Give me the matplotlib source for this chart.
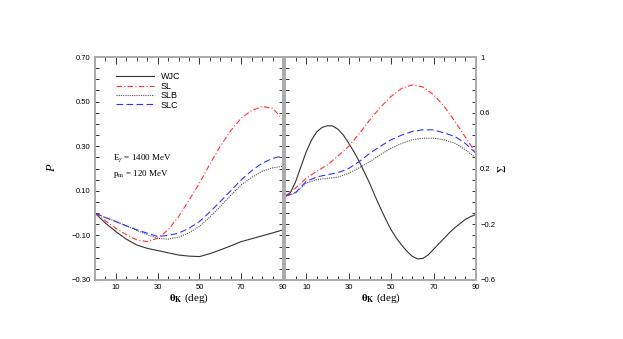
import matplotlib
matplotlib.use("Agg")
import matplotlib.pyplot as plt
import numpy as np

plt.rcParams["mathtext.fontset"] = "stix"

theta = list(range(0, 95, 5))
theta_fine = [i * 2.5 for i in range(37)]

# Left panel: P
P_WJC = [0, -0.045, -0.083, -0.117, -0.143, -0.158, -0.168, -0.178, -0.188, -0.193,
         -0.195, -0.182, -0.165, -0.147, -0.128, -0.115, -0.102, -0.089, -0.075]
P_SL = [0, -0.035, -0.068, -0.097, -0.12, -0.128, -0.113, -0.075, -0.016, 0.058,
        0.134, 0.22, 0.30, 0.37, 0.426, 0.46, 0.478, 0.47, 0.42]
P_SLB = [0, -0.02, -0.038, -0.057, -0.077, -0.097, -0.113, -0.117, -0.108, -0.088,
         -0.06, -0.017, 0.03, 0.08, 0.127, 0.16, 0.187, 0.203, 0.21]
P_SLC = [0, -0.02, -0.038, -0.057, -0.075, -0.09, -0.105, -0.1, -0.09, -0.068,
         -0.038, 0.005, 0.052, 0.10, 0.149, 0.19, 0.224, 0.245, 0.257]

# Right panel: Sigma
S_WJC = [0, 0.026, 0.105, 0.213, 0.32, 0.404, 0.464, 0.495, 0.507, 0.505,
         0.481, 0.44, 0.381, 0.32, 0.25, 0.17, 0.09, 0.0, -0.085, -0.165,
         -0.24, -0.30, -0.35, -0.395, -0.43, -0.449, -0.445, -0.42, -0.38, -0.34,
         -0.30, -0.26, -0.225, -0.195, -0.165, -0.145, -0.13]
S_SL = [0, 0.06, 0.13, 0.18, 0.226, 0.29, 0.358, 0.45, 0.55, 0.64,
        0.717, 0.775, 0.80, 0.785, 0.73, 0.645, 0.54, 0.425, 0.31]
S_SLB = [0, 0.025, 0.094, 0.12, 0.13, 0.138, 0.166, 0.205, 0.25, 0.30,
         0.346, 0.38, 0.406, 0.417, 0.418, 0.405, 0.382, 0.335, 0.274]
S_SLC = [0, 0.028, 0.107, 0.14, 0.155, 0.17, 0.2, 0.25, 0.31, 0.36,
         0.406, 0.44, 0.466, 0.478, 0.477, 0.455, 0.43, 0.38, 0.31]

x_ticklabels = ["10", "30", "50", "70", "90"]
left_yticks = [0.70, 0.50, 0.30, 0.10, -0.10, -0.30]
left_yticklabels = ["0.70", "0.50", "0.30", "0.10", "\u22120.10", "\u22120.30"]
right_yticks = [1, 0.6, 0.2, -0.2, -0.6]
right_yticklabels = ["1", "0.6", "0.2", "\u22120.2", "\u22120.6"]

fig = plt.figure(figsize=(6.23, 3.39), dpi=100)
axL = fig.add_axes([95/623, 59/339, 188/623, 223/339])
axR = fig.add_axes([285/623, 59/339, 191/623, 223/339])

styles = dict(
    WJC=dict(color="#333333", ls="-", lw=0.8),
    SL=dict(color="#ff3333", ls=(0, (5, 2, 1, 2)), lw=0.8),
    SLB=dict(color="#555555", ls=(0, (1, 1)), lw=0.8),
    SLC=dict(color="#3333ff", ls=(0, (6, 3)), lw=0.8),
)

for name, y in [("WJC", P_WJC), ("SL", P_SL), ("SLB", P_SLB), ("SLC", P_SLC)]:
    axL.plot(theta, y, label=name, **styles[name])
axR.plot(theta_fine, S_WJC, **styles["WJC"])
for name, y in [("SL", S_SL), ("SLB", S_SLB), ("SLC", S_SLC)]:
    axR.plot(theta, y, **styles[name])

for ax in (axL, axR):
    ax.set_xlim(0, 90)
    ax.set_xticks(np.arange(10, 91, 20))
    ax.set_xticks(np.arange(0, 91, 5), minor=True)
    ax.set_xticklabels(x_ticklabels, fontsize=5.5, family="Liberation Sans")
    ax.tick_params(which="both", direction="in", top=True, bottom=True, left=True, right=True,
                   color="#333333", width=0.7, pad=3)
    ax.tick_params(which="major", length=5)
    ax.tick_params(which="minor", length=3)
    for sp in ax.spines.values():
        sp.set_color("#aaaaaa")
        sp.set_linewidth(1.4)
    ax.set_xlabel(r"$\mathbf{\theta_K}$ (deg)", family="Liberation Serif", fontsize=8, labelpad=0)

axL.set_ylim(-0.30, 0.70)
axL.set_yticks(left_yticks)
axL.set_yticks(np.arange(-0.30, 0.701, 0.05), minor=True)
axL.set_yticklabels(left_yticklabels, fontsize=5.5, family="Liberation Sans")
axL.tick_params(axis="y", which="major", length=3)
axL.set_ylabel("P", family="Liberation Serif", style="italic", fontsize=9, labelpad=10)

axR.set_ylim(-0.6, 1.0)
axR.set_yticks(right_yticks)
axR.set_yticks(np.arange(-0.6, 1.001, 0.08), minor=True)
axR.set_yticklabels(right_yticklabels, fontsize=5.5, family="Liberation Sans")
axR.tick_params(axis="y", which="major", length=3, labelleft=False, labelright=True)
axR.yaxis.set_label_position("right")
axR.set_ylabel("\u03a3", family="Liberation Serif", fontsize=9, labelpad=1, rotation=90)

axL.legend(loc="upper left", bbox_to_anchor=(0.08, 0.96), frameon=False,
           prop=dict(family="Liberation Sans", size=6.5), handlelength=4.2,
           labelspacing=0.05, handletextpad=0.7, borderpad=0.2)

axL.text(0.095, 0.545, r"E$_\gamma$ = 1400 MeV", transform=axL.transAxes,
         family="Liberation Serif", fontsize=6.5, va="center")
axL.text(0.095, 0.475, r"p$_\mathrm{m}$ = 120 MeV", transform=axL.transAxes,
         family="Liberation Serif", fontsize=6.5, va="center")

fig.savefig("out.png", dpi=100)
